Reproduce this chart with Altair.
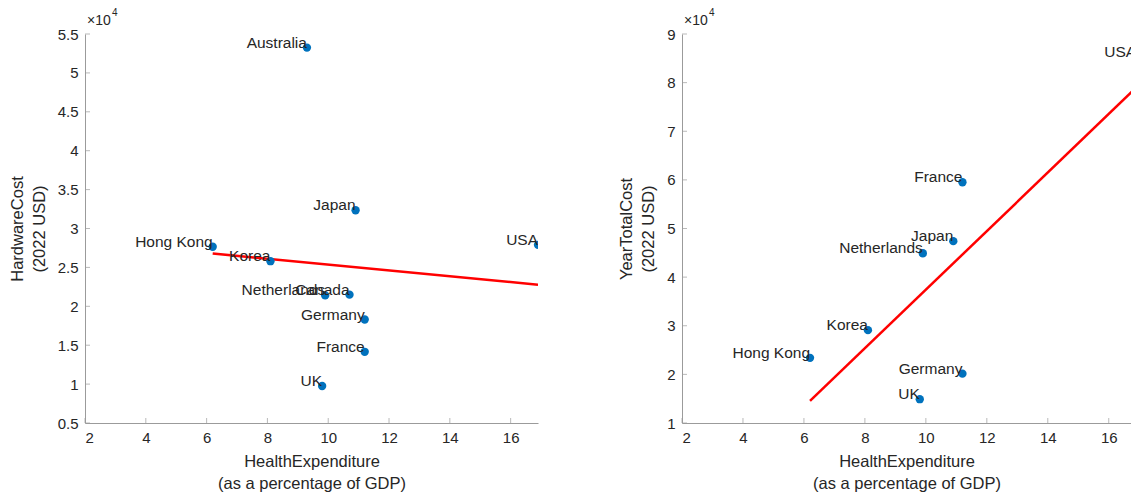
import altair as alt
import pandas as pd

FONT = "Liberation Sans"
TEXT = "#262626"
AXIS = "#9b9b9b"
BLUE = "#0072BD"

# Hardware cost per country (USD, 2022) vs health expenditure (% of GDP)
hw_country = ["Australia", "Japan", "Hong Kong", "Korea", "Netherlands",
              "Canada", "Germany", "France", "UK", "USA"]
hw_health = [9.3, 10.9, 6.2, 8.1, 9.9, 10.7, 11.2, 11.2, 9.8, 16.9]
hw_cost = [53250, 32350, 27650, 25800, 21400, 21500, 18300, 14150, 9750, 27900]

# Yearly total cost per country (USD, 2022) vs health expenditure (% of GDP)
tc_country = ["France", "Japan", "Netherlands", "Korea", "Hong Kong",
              "Germany", "UK", "USA"]
tc_health = [11.2, 10.9, 9.9, 8.1, 6.2, 11.2, 9.8, 16.9]
tc_cost = [59500, 47400, 44900, 29100, 23400, 20150, 14900, 85300]

x_ticks = [2, 4, 6, 8, 10, 12, 14, 16]
hw_ticks = [5000, 10000, 15000, 20000, 25000, 30000, 35000, 40000, 45000, 50000, 55000]
tc_ticks = [10000, 20000, 30000, 40000, 50000, 60000, 70000, 80000, 90000]

X_TITLE = ["HealthExpenditure", "(as a percentage of GDP)"]

axis_style = dict(
    grid=False, ticks=False, domainColor=AXIS, domainWidth=1,
    labelFont=FONT, labelFontSize=15, labelColor=TEXT,
    titleFont=FONT, titleFontSize=16.5, titleFontWeight="normal",
    titleColor=TEXT, titleLineHeight=22,
)


def panel(df, ytitle, xdomain, ydomain, yticks, width, height, exp_lift):
    xs = alt.Scale(domain=xdomain, nice=False, zero=False)
    ys = alt.Scale(domain=ydomain, nice=False, zero=False)
    x_axis = alt.Axis(values=x_ticks, title=X_TITLE, labelPadding=7,
                      titlePadding=8, **axis_style)
    y_axis = alt.Axis(values=yticks, labelExpr="datum.value / 10000",
                      title=ytitle, labelPadding=7, titlePadding=10,
                      **axis_style)
    # every layer uses the same fields, scales and axes so they merge cleanly
    enc = dict(x=alt.X("health:Q", scale=xs, axis=x_axis),
               y=alt.Y("cost:Q", scale=ys, axis=y_axis))

    base = alt.Chart(df).encode(**enc)
    fit = base.transform_regression("health", "cost").mark_line(
        color="#ff0000", strokeWidth=2.5, clip=True)
    dots = base.mark_circle(size=70, color=BLUE, opacity=1, clip=True)
    names = base.mark_text(
        align="right", baseline="bottom", dy=3, font=FONT, fontSize=15.5,
        color=TEXT, clip=True,
    ).encode(text="country:N")

    # inward tick marks along both axes
    xtick_df = pd.DataFrame({"health": x_ticks, "cost": [ydomain[0]] * len(x_ticks)})
    xt = alt.Chart(xtick_df).mark_tick(
        orient="vertical", size=5, thickness=1, color=AXIS, yOffset=-2.5
    ).encode(**enc)
    ytick_df = pd.DataFrame({"health": [xdomain[0]] * len(yticks), "cost": yticks})
    yt = alt.Chart(ytick_df).mark_tick(
        orient="horizontal", size=5, thickness=1, color=AXIS, xOffset=2.5
    ).encode(**enc)

    # exponent marker above the y axis
    corner = alt.Chart(pd.DataFrame({"health": [xdomain[0]], "cost": [ydomain[1]]}))
    times = corner.mark_text(
        text="×10", align="left", baseline="alphabetic", dx=2, dy=-exp_lift,
        font=FONT, fontSize=14, color=TEXT).encode(**enc)
    power = corner.mark_text(
        text="4", align="left", baseline="alphabetic", dx=27, dy=-exp_lift - 9,
        font=FONT, fontSize=10, color=TEXT).encode(**enc)

    return alt.layer(fit, dots, names, xt, yt, times, power).properties(
        width=width, height=height)


hw_df = pd.DataFrame({"country": hw_country, "health": hw_health, "cost": hw_cost})
tc_df = pd.DataFrame({"country": tc_country, "health": tc_health, "cost": tc_cost})

left = panel(hw_df, ["HardwareCost", "(2022 USD)"],
             [2, 16.9], [5000, 55000], hw_ticks, 453, 389, 9)
right = panel(tc_df, ["YearTotalCost", "(2022 USD)"],
              [2, 16.73], [10000, 90000], tc_ticks, 449, 389, 9)

chart = alt.hconcat(left, right, spacing=80).resolve_scale(
    x="independent", y="independent"
).properties(
    autosize=alt.AutoSizeParams(type="pad"),
    padding={"left": 9, "top": 8, "right": 0, "bottom": 0},
    background="white",
).configure_view(stroke=None)

chart.save("out.html", embed_options={"renderer": "svg", "actions": False})
